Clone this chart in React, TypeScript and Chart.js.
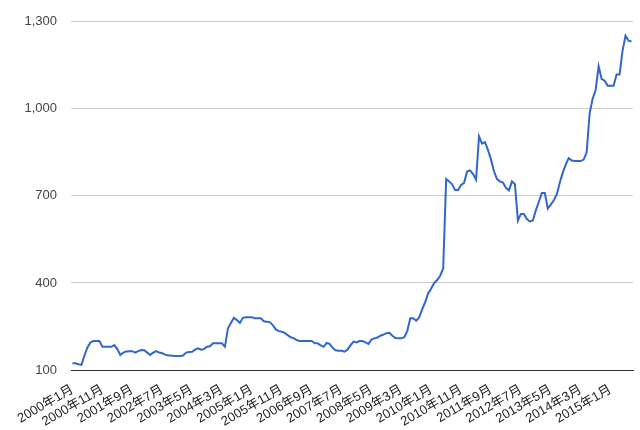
import React, { useEffect, useRef } from "react";
import { Chart, registerables } from "chart.js";

Chart.register(...registerables);

// Monthly series, 2000-01 .. 2015-08
const startYear = 2000;
const monthCount = 188;
const categories: string[] = [];
for (let i = 0; i < monthCount; i++) {
  const y = startYear + Math.floor(i / 12);
  const m = (i % 12) + 1;
  categories.push(`${y}年${m}月`);
}

const values: number[] = [
  123, 123, 120, 118, 150, 178, 195, 200, 200, 200,
  180, 180, 180, 180, 186, 172, 152, 160, 164, 165,
  165, 160, 165, 169, 168, 160, 152, 160, 165, 160,
  158, 153, 150, 150, 148, 148, 148, 150, 160, 162,
  163, 170, 175, 170, 172, 180, 182, 192, 192, 192,
  192, 180, 244, 262, 280, 272, 262, 280, 282, 282,
  282, 278, 278, 278, 268, 266, 265, 255, 240, 234,
  232, 228, 220, 213, 210, 203, 200, 200, 200, 200,
  200, 193, 192, 185, 180, 193, 190, 177, 168, 166,
  166, 163, 170, 185, 198, 195, 200, 200, 195, 190,
  205, 209, 212, 218, 222, 227, 228, 218, 210, 209,
  209, 213, 235, 278, 278, 270, 282, 310, 335, 365,
  381, 400, 410, 425, 450, 758, 750, 740, 720, 720,
  738, 745, 784, 788, 775, 756, 905, 880, 885, 858,
  825, 785, 758, 750, 746, 728, 719, 750, 740, 615,
  638, 638, 620, 612, 615, 650, 680, 710, 710, 656,
  670, 685, 705, 745, 780, 808, 830, 822, 820, 820,
  820, 825, 850, 985, 1035, 1065, 1147, 1103, 1097, 1080,
  1080, 1080, 1118, 1118, 1200, 1252, 1235, 1232,
];

const yTicks = [100, 400, 700, 1000, 1300];
const labelEvery = 10;

const FONT = "Arial, 'Liberation Sans', 'Noto Sans CJK SC', sans-serif";

export default function App() {
  const ref = useRef<HTMLCanvasElement | null>(null);

  useEffect(() => {
    document.body.style.margin = "0";
    const canvas = ref.current;
    if (!canvas) return;
    const chart = new Chart(canvas, {
      type: "line",
      data: {
        labels: categories,
        datasets: [
          {
            data: values,
            borderColor: "#3366cc",
            backgroundColor: "#3366cc",
            borderWidth: 2,
            pointRadius: 0,
            tension: 0,
            fill: false,
          },
        ],
      },
      options: {
        animation: false,
        responsive: false,
        maintainAspectRatio: false,
        layout: { padding: { left: 0, right: 7, top: 21, bottom: 0 } },
        plugins: { legend: { display: false }, tooltip: { enabled: false } },
        scales: {
          x: {
            type: "category",
            offset: true,
            grid: { display: false, drawTicks: false },
            border: { display: true, color: "#333333", width: 1 },
            ticks: {
              autoSkip: false,
              minRotation: 30,
              maxRotation: 30,
              padding: 12,
              color: "#222222",
              font: { family: FONT, size: 13 },
              callback: function (this: any, value: any, index: number) {
                return index % labelEvery === 0 ? categories[index] : "";
              },
            },
            afterFit: (scale: any) => {
              scale.height = 60;
              scale.paddingLeft = 0;
              scale.paddingRight = 0;
            },
          },
          y: {
            min: yTicks[0],
            max: yTicks[yTicks.length - 1],
            afterBuildTicks: (scale: any) => {
              scale.ticks = yTicks.map((v) => ({ value: v }));
            },
            grid: {
              drawTicks: false,
              color: (ctx: any) =>
                ctx.tick && ctx.tick.value === yTicks[0] ? "#333333" : "#cccccc",
            },
            border: { display: false },
            ticks: {
              padding: 14,
              color: "#444444",
              font: { family: FONT, size: 13 },
              callback: (v: any) => Number(v).toLocaleString("en-US"),
            },
            afterFit: (scale: any) => {
              scale.width = 71;
            },
          },
        },
      },
    });
    return () => chart.destroy();
  }, []);

  return (
    <div style={{ position: "absolute", left: 0, top: 0, width: 640, height: 430 }}>
      <canvas ref={ref} width={640} height={430} style={{ display: "block" }} />
    </div>
  );
}
